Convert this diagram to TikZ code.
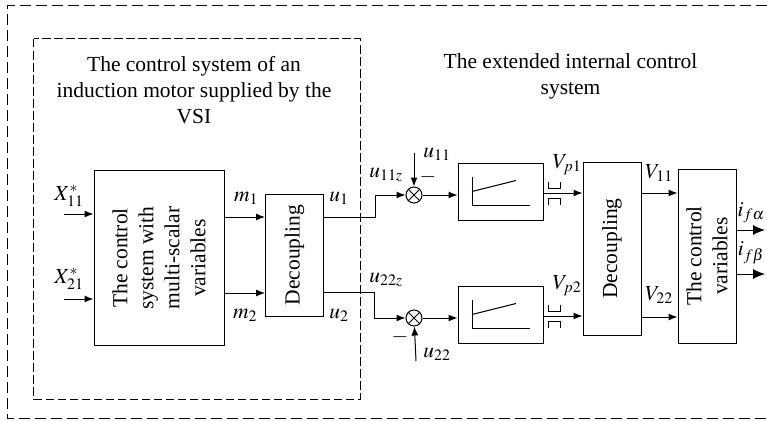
\documentclass[tikz,border=0pt]{standalone}
\usepackage{mathptmx}
\usepackage[no-math]{fontspec}
\setmainfont{Liberation Serif}
\usetikzlibrary{arrows.meta}
\tikzset{
	blockbox/.style = {draw, line width = 1pt, inner sep = 0pt},
	sumcircle/.style = {draw, circle, line width = 1pt, minimum size = 16pt, inner sep = 0pt},
	wire/.style = {line width = 1pt},
	sig/.style = {line width = 1pt, -{Latex[length = 9pt, width = 7pt]}},
	bigsig/.style = {line width = 1pt, -{Latex[length = 12pt, width = 10pt]}},
	txt/.style = {font = \fontsize{21.5}{26}\selectfont, align = center},
	lab/.style = {font = \fontsize{21.5}{25}\selectfont, inner sep = 0pt}
}
\begin{document}
\begin{tikzpicture}[x = 1pt, y = -1pt]
\useasboundingbox (0,0) rectangle (767,420);
% dashed frames
\draw[line width = 1pt, dash pattern = on 11pt off 5pt] (767,6) -- (7,6) -- (7,418) -- (767,418);
\draw[line width = 1pt, dash pattern = on 8.5pt off 3.5pt] (33.5,39) rectangle (360,399);
\node[txt] (titleA) at (194,90) {The control system of an\\induction motor supplied by the\\VSI};
\node[txt] (titleB) at (570.5,76) {The extended internal control\\system};
% blocks
\node[blockbox, minimum width = 130pt, minimum height = 175pt] (ctrl) at (159,258) {};
\node[blockbox, minimum width = 58pt, minimum height = 122pt] (decA) at (294.5,255) {};
\node[blockbox, minimum width = 58pt, minimum height = 173pt] (decB) at (612,248.5) {};
\node[blockbox, minimum width = 58pt, minimum height = 174pt] (vars) at (707,256) {};
\node[txt, rotate = 90] (ctrlT) at (ctrl) {The control\\system with\\multi-scalar\\variables};
\node[txt, rotate = 90] (decAT) at (decA) {Decoupling};
\node[txt, rotate = 90] (decBT) at (decB) {Decoupling};
\node[txt, rotate = 90] (varsT) at (vars) {The control\\variables};
\foreach \n / \ya / \yc in {1/191.5/195, 2/314.5/318}
{
	\node[blockbox, minimum width = 85pt, minimum height = 57pt] (pi\n) at (500.5,\ya) {};
	\node[sumcircle] (sum\n) at (414,\yc) {};
	\draw[wire] (sum\n.north west) -- (sum\n.south east) (sum\n.north east) -- (sum\n.south west);
	\draw[sig] (sum\n) -- (pi\n.west |- sum\n);
	% limiter curve
	\draw[wire] (472,\ya - 14.5) -- (472,\ya + 13.5) -- (530,\ya + 13.5);
	\draw[wire] (472,\ya) -- (516,\ya - 11);
	% contact
	\coordinate (vp\n) at (pi\n.east |- 0,\ya + 1.5);
	\draw[sig] (vp\n) -- (decB.west |- vp\n);
	\draw[wire] (548.5,\ya - 9.5) -- (548.5,\ya - 3) -- (560.5,\ya - 3) -- (560.5,\ya - 9.5);
	\draw[wire] (548.5,\ya + 13) -- (548.5,\ya + 6.5) -- (560.5,\ya + 6.5) -- (560.5,\ya + 13);
}
% inputs and links
\coordinate (xa) at (64,214);
\coordinate (xb) at (64,299);
\coordinate (ua) at (375.5,217);
\coordinate (ub) at (374,292);
\coordinate (refa) at (414,153);
\coordinate (refb) at (416,361);
\coordinate (ifa) at (765,230);
\coordinate (ifb) at (765,274);
\draw[sig] (xa) -- (ctrl.west |- xa);
\draw[sig] (xb) -- (ctrl.west |- xb);
\draw[sig] (ctrl.east |- 0,217) -- (decA.west |- 0,217);
\draw[sig] (ctrl.east |- 0,293) -- (decA.west |- 0,293);
\draw[sig] (decA.east |- ua) -- (ua) |- (sum1);
\draw[sig] (decA.east |- ub) -- (ub) |- (sum2);
\draw[sig] (refa) -- (sum1);
\draw[sig] (refb) -- (sum2);
\draw[sig] (decB.east |- 0,193) -- (vars.west |- 0,193);
\draw[sig] (decB.east |- 0,317) -- (vars.west |- 0,317);
\draw[bigsig] (vars.east |- ifa) -- (ifa);
\draw[bigsig] (vars.east |- ifb) -- (ifb);
% signal names
\foreach \name / \x / \y / \s in {xA/69/196/X_{11}^{*}, xB/69/279/X_{21}^{*}, mA/246/198/m_1, mB/245/315/m_2,
	uA/339/198/u_1, uB/339/315/u_2, uAz/386/175/u_{11z}, uBz/386/280/u_{22z},
	uAr/437/154/u_{11}, uBr/437/354/u_{22}, vpA/567/165/V_{p1}, vpB/567/286/V_{p2},
	vA/659/173/V_{11}, vB/659/295/V_{22}, iA/751/213/i_{f\alpha}, iB/751/253/i_{f\beta}}
{
	\node[lab] (\name) at (\x,\y) {$\s$};
}
\node[lab] (minusA) at (428,177) {$-$};
\node[lab] (minusB) at (400,337) {$-$};
\end{tikzpicture}
\end{document}
